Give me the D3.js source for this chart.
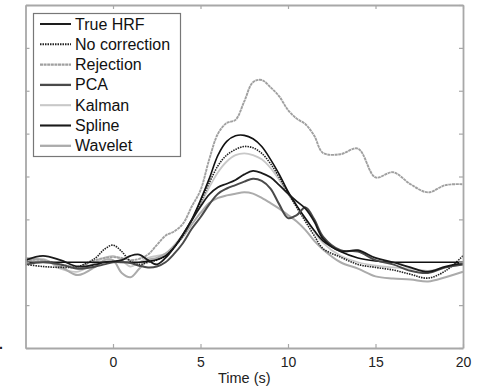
<!DOCTYPE html>
<html>
<head>
<meta charset="utf-8">
<script src="https://cdn.jsdelivr.net/npm/d3@7"></script>
<style>
  body { margin: 0; background: #fff; }
  #chart { width: 484px; height: 387px; }
</style>
</head>
<body>
<div id="chart"></div>
<script>
(function() {
    'use strict';

    // time axis (s)
    const times = [-5, -4, -3, -2, -1, -0.5, 0, 0.5, 1, 1.5, 2, 2.5, 3, 3.5, 4, 4.5, 5, 5.5, 6, 6.5,
        7, 7.5, 8, 8.5, 9, 9.5, 10, 10.5, 11, 11.5, 12, 13, 14, 15, 16, 17, 18, 19, 20];

    const trueHRF = [0, 0, 0, 0, 0, 0, 0, 0, 0, 0, 0.02, 0.06, 0.15, 0.35, 0.65, 1.0, 1.45, 1.95, 2.5, 2.82,
        2.95, 2.96, 2.88, 2.7, 2.4, 2.05, 1.65, 1.32, 1.02, 0.74, 0.5, 0.25, 0.1, 0.03, 0, 0, 0, 0, 0];
    const noCorrection = [-0.05, -0.1, -0.12, -0.1, 0.1, 0.3, 0.4, 0.25, 0.02, -0.05, 0.0, 0.05, 0.15, 0.35, 0.62, 0.98, 1.4, 1.85, 2.25, 2.5,
        2.63, 2.7, 2.67, 2.54, 2.3, 1.98, 1.62, 1.28, 0.95, 0.62, 0.32, 0.12, -0.05, -0.12, -0.18, -0.28, -0.37, -0.2, 0.15];
    const rejection = [0.05, 0.05, -0.05, -0.1, 0.05, 0.1, 0.12, 0.1, 0.05, 0.08, 0.18, 0.4, 0.62, 0.72, 0.9, 1.3, 1.68, 2.4, 3.0, 3.25,
        3.32, 3.75, 4.2, 4.25, 4.08, 3.87, 3.55, 3.35, 3.22, 2.95, 2.55, 2.52, 2.65, 1.98, 2.1, 1.82, 1.63, 1.8, 1.82];
    const pca = [-0.05, 0.0, -0.05, -0.15, -0.1, -0.05, 0.0, 0.0, -0.02, -0.08, -0.12, -0.1, 0.0, 0.2, 0.45, 0.78, 1.05, 1.35, 1.6, 1.72,
        1.8, 1.88, 1.95, 1.9, 1.72, 1.35, 1.03, 1.1, 1.28, 1.0, 0.6, 0.28, 0.25, 0.05, -0.05, -0.2, -0.25, -0.12, -0.05];
    const kalman = [0.0, 0.08, -0.15, -0.22, 0.0, 0.1, 0.15, 0.05, -0.1, 0.0, 0.1, 0.15, 0.2, 0.4, 0.65, 0.98, 1.35, 1.75, 2.1, 2.35,
        2.5, 2.54, 2.5, 2.4, 2.2, 1.92, 1.6, 1.3, 1.02, 0.72, 0.45, 0.15, 0.0, -0.08, -0.12, -0.15, -0.2, -0.12, -0.05];
    const spline = [0.05, 0.15, 0.05, -0.1, -0.05, 0.0, 0.02, 0.05, 0.15, 0.18, 0.05, -0.05, 0.1, 0.35, 0.65, 0.98, 1.3, 1.58, 1.75, 1.83,
        1.92, 2.05, 2.13, 2.08, 1.98, 1.8, 1.6, 1.42, 1.25, 0.95, 0.55, 0.26, 0.28, 0.1, 0.0, -0.12, -0.22, -0.1, -0.02];
    const wavelet = [0.1, 0.05, -0.1, -0.3, -0.1, 0.05, 0.05, -0.25, -0.35, -0.15, 0.05, 0.1, 0.2, 0.38, 0.6, 0.88, 1.15, 1.38, 1.5, 1.56,
        1.6, 1.63, 1.6, 1.5, 1.38, 1.25, 1.1, 0.95, 0.75, 0.5, 0.3, 0.0, -0.15, -0.33, -0.38, -0.4, -0.45, -0.35, -0.22];

    const names = ["True HRF", "No correction", "Rejection", "PCA", "Kalman", "Spline", "Wavelet"];
    const xTicks = [0, 5, 10, 15, 20];
    const yTicks = [-2, -1, 0, 1, 2, 3, 4, 5, 6];

    const series = [
        { name: names[0], values: trueHRF, color: "#111", width: 1.6, dash: null },
        { name: names[1], values: noCorrection, color: "#222", width: 1.6, dash: "1.5,1" },
        { name: names[2], values: rejection, color: "#a0a0a0", width: 1.9, dash: "3,0.6" },
        { name: names[3], values: pca, color: "#4a4a4a", width: 2, dash: null },
        { name: names[4], values: kalman, color: "#c8c8c8", width: 1.8, dash: null },
        { name: names[5], values: spline, color: "#1a1a1a", width: 1.8, dash: null },
        { name: names[6], values: wavelet, color: "#ababab", width: 2, dash: null }
    ];

    const width = 484;
    const height = 387;
    const marginTop = 5;
    const marginRight = 21;
    const marginBottom = 39;
    const marginLeft = 25.5;
    const font = "'Liberation Sans', Arial, sans-serif";

    const svg = d3.select("#chart")
        .append("svg")
        .attr("width", width)
        .attr("height", height);

    const x = d3.scaleLinear()
        .domain([-5, 20])
        .range([marginLeft, width - marginRight]);

    const y = d3.scaleLinear()
        .domain([-2, 6])
        .range([height - marginBottom, marginTop]);

    // LINES
    const line = d3.line()
        .x((d, i) => x(times[i]))
        .y(d => y(d))
        .curve(d3.curveCatmullRom.alpha(0.5));

    const drawOrder = [4, 6, 2, 1, 0, 3, 5];
    svg.append("g")
        .selectAll("path")
        .data(drawOrder.map(i => series[i]))
        .join("path")
        .attr("d", d => line(d.values))
        .attr("fill", "none")
        .attr("stroke", d => d.color)
        .attr("stroke-width", d => d.width)
        .attr("stroke-dasharray", d => d.dash)
        .attr("stroke-linejoin", "round");

    // FRAME + TICKS (inward, all four sides)
    const axisColor = "#a8a8a8";
    const frame = svg.append("g");
    frame.append("g")
        .attr("transform", `translate(0, ${height - marginBottom})`)
        .call(d3.axisBottom(x).tickValues(xTicks).tickSizeInner(-4).tickSizeOuter(0).tickPadding(9));
    frame.append("g")
        .attr("transform", `translate(0, ${marginTop})`)
        .call(d3.axisTop(x).tickValues(xTicks).tickSizeInner(-4).tickSizeOuter(0).tickFormat(""));
    frame.append("g")
        .attr("transform", `translate(${marginLeft}, 0)`)
        .call(d3.axisLeft(y).tickValues(yTicks).tickSizeInner(-4).tickSizeOuter(0).tickFormat(""));
    frame.append("g")
        .attr("transform", `translate(${width - marginRight}, 0)`)
        .call(d3.axisRight(y).tickValues(yTicks).tickSizeInner(-4).tickSizeOuter(0).tickFormat(""));

    frame.selectAll("path").attr("stroke", axisColor).attr("stroke-width", 1.8);
    frame.selectAll("line").attr("stroke", axisColor).attr("stroke-width", 1.2);
    frame.selectAll("text")
        .attr("fill", "#222")
        .attr("font-size", "14px")
        .attr("font-family", font);

    // X LABEL
    svg.append("text")
        .attr("x", (x(-5) + x(20)) / 2)
        .attr("y", 383)
        .attr("text-anchor", "middle")
        .attr("fill", "#222")
        .attr("font-size", "14.5px")
        .attr("font-family", font)
        .text("Time (s)");

    // stray mark at lower left of the figure
    svg.append("text")
        .attr("x", -1)
        .attr("y", 349)
        .attr("fill", "#111")
        .attr("font-size", "14px")
        .attr("font-weight", "bold")
        .attr("font-family", font)
        .text(".");

    // LEGEND
    const legend = svg.append("g");
    legend.append("rect")
        .attr("x", 33.5)
        .attr("y", 13.5)
        .attr("width", 147)
        .attr("height", 143)
        .attr("fill", "#fff")
        .attr("stroke", "#777")
        .attr("stroke-width", 1.2);

    const rows = legend.selectAll("g.row")
        .data(series)
        .join("g")
        .attr("class", "row")
        .attr("transform", (d, i) => `translate(0, ${24 + i * 20.3})`);

    rows.append("line")
        .attr("x1", 40)
        .attr("x2", 71)
        .attr("stroke", d => d.color)
        .attr("stroke-width", d => d.width + 0.3)
        .attr("stroke-dasharray", d => d.dash);

    rows.append("text")
        .attr("x", 75)
        .attr("y", 5.5)
        .attr("fill", "#111")
        .attr("font-size", "16px")
        .attr("font-family", font)
        .text(d => d.name);

})();
</script>
</body>
</html>
